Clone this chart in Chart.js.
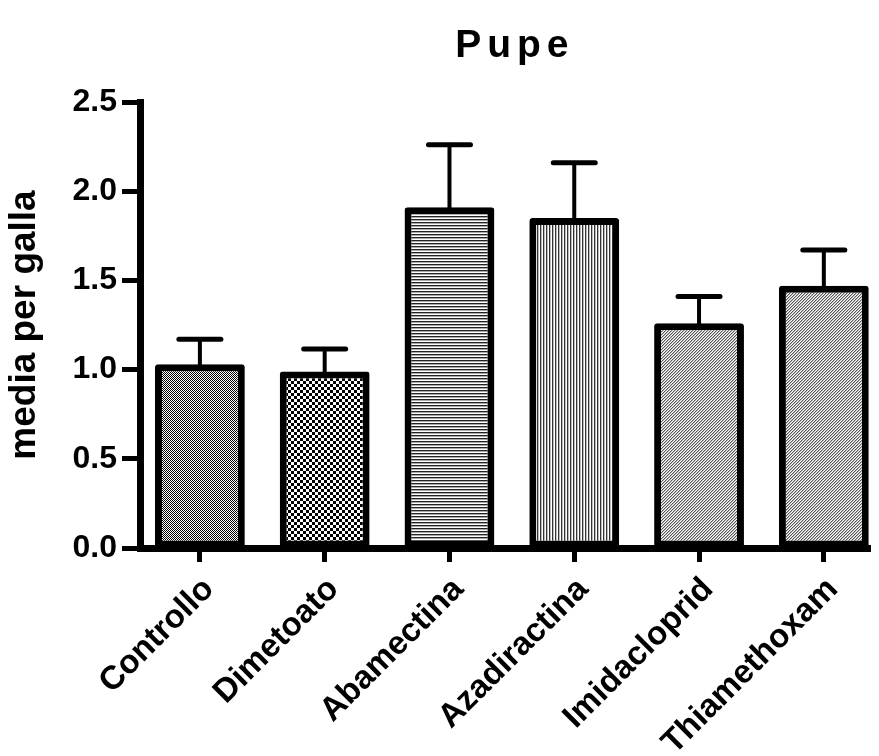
<!DOCTYPE html>
<html>
<head>
<meta charset="utf-8">
<script src="https://cdn.jsdelivr.net/npm/chart.js@4/dist/chart.umd.min.js"></script>
<style>
  html, body { margin: 0; padding: 0; background: #fff; }
</style>
</head>
<body>
<canvas id="grafico" width="879" height="756"></canvas>
<script>
const categorie = ["Controllo", "Dimetoato", "Abamectina", "Azadiractina", "Imidacloprid", "Thiamethoxam"];
const medie = [1.03, 0.99, 1.91, 1.85, 1.26, 1.47];
const errori = [0.14, 0.125, 0.35, 0.31, 0.15, 0.20];
const tickY = [0, 0.5, 1.0, 1.5, 2.0, 2.5];

const FONT = "'Liberation Sans', Arial, sans-serif";

// piccoli motivi di riempimento come nel grafico originale
function motivo(w, h, disegna) {
  const c = document.createElement("canvas");
  c.width = w;
  c.height = h;
  const g = c.getContext("2d");
  g.fillStyle = "#fff";
  g.fillRect(0, 0, w, h);
  disegna(g);
  return g.createPattern(c, "repeat");
}

const scacchiFini = motivo(2, 2, g => {
  g.fillStyle = "#000";
  g.fillRect(0, 0, 1, 1);
  g.fillRect(1, 1, 1, 1);
});
const scacchiGrandi = motivo(6, 6, g => {
  g.fillStyle = "#000";
  g.fillRect(0, 0, 3, 3);
  g.fillRect(3, 3, 3, 3);
});
const righeOrizz = motivo(3, 3, g => {
  g.fillStyle = "#222";
  g.fillRect(0, 0, 3, 1);
  g.fillStyle = "#aaa";
  g.fillRect(0, 1, 3, 1);
});
const righeVert = motivo(3, 3, g => {
  g.fillStyle = "#333";
  g.fillRect(0, 0, 1, 3);
  g.fillStyle = "#bbb";
  g.fillRect(1, 0, 1, 3);
});
const diagonali = motivo(3, 3, g => {
  g.fillStyle = "#555";
  g.fillRect(2, 0, 1, 1);
  g.fillRect(1, 1, 1, 1);
  g.fillRect(0, 2, 1, 1);
  g.fillStyle = "#bbb";
  g.fillRect(0, 0, 1, 1);
  g.fillRect(2, 1, 1, 1);
  g.fillRect(1, 2, 1, 1);
});

// barre d'errore (solo verso l'alto)
const barreErrore = {
  id: "barreErrore",
  afterDatasetsDraw(chart) {
    const ctx = chart.ctx;
    const x = chart.scales.x;
    const y = chart.scales.y;
    ctx.save();
    ctx.strokeStyle = "#000";
    ctx.lineCap = "round";
    medie.forEach((m, i) => {
      const px = x.getPixelForValue(i);
      const yBase = y.getPixelForValue(m);
      const yTop = y.getPixelForValue(m + errori[i]);
      ctx.lineWidth = 4;
      ctx.beginPath();
      ctx.moveTo(px, yBase);
      ctx.lineTo(px, yTop);
      ctx.stroke();
      ctx.lineWidth = 5;
      ctx.beginPath();
      ctx.moveTo(px - 21, yTop);
      ctx.lineTo(px + 21, yTop);
      ctx.stroke();
    });
    ctx.restore();
  },
};

// titolo con spaziatura tra le lettere
const titolo = {
  id: "titolo",
  afterDraw(chart) {
    const ctx = chart.ctx;
    const x = chart.scales.x;
    const cx = (x.getPixelForValue(0) + x.getPixelForValue(categorie.length - 1)) / 2;
    ctx.save();
    ctx.font = "bold 39px " + FONT;
    ctx.letterSpacing = "6px";
    ctx.fillStyle = "#000";
    ctx.textAlign = "center";
    ctx.textBaseline = "middle";
    ctx.fillText("Pupe", cx + 3, 46);
    ctx.restore();
  },
};

new Chart(document.getElementById("grafico"), {
  type: "bar",
  data: {
    datasets: [
      {
        data: medie.map((m, i) => ({ x: i, y: m })),
        backgroundColor: [scacchiFini, scacchiGrandi, righeOrizz, righeVert, diagonali, diagonali],
        borderColor: "#000",
        borderWidth: 7,
        borderRadius: 3,
        borderSkipped: false,
        barPercentage: 0.72,
        categoryPercentage: 1,
      },
    ],
  },
  options: {
    responsive: false,
    animation: false,
    layout: { padding: { top: 102, right: 9, left: 0, bottom: 0 } },
    plugins: {
      legend: { display: false },
      tooltip: { enabled: false },
    },
    scales: {
      x: {
        type: "linear",
        offset: false,
        min: -0.48,
        max: 5.37,
        afterBuildTicks: s => { s.ticks = categorie.map((c, i) => ({ value: i })); },
        afterFit: s => { s.height = 208; },
        border: { display: true, color: "#000", width: 7 },
        grid: { display: true, offset: false, drawOnChartArea: false, drawTicks: true, tickLength: 14, tickWidth: 5, tickColor: "#000" },
        ticks: {
          autoSkip: false,
          maxRotation: 45,
          minRotation: 45,
          padding: 8,
          labelOffset: 9,
          color: "#000",
          font: { family: FONT, size: 33, weight: "bold" },
          callback: v => categorie[v],
        },
      },
      y: {
        min: 0,
        max: 2.5,
        afterBuildTicks: s => { s.ticks = tickY.map(v => ({ value: v })); },
        afterFit: s => { s.width = 140; },
        border: { display: true, color: "#000", width: 7 },
        grid: { display: true, drawOnChartArea: false, drawTicks: true, tickLength: 18, tickWidth: 5, tickColor: "#000" },
        ticks: {
          padding: 5,
          color: "#000",
          font: { family: FONT, size: 32, weight: "bold" },
          callback: v => v.toFixed(1),
        },
        title: {
          display: true,
          text: "media per galla",
          color: "#000",
          font: { family: FONT, size: 37, weight: "bold" },
          padding: { top: 3, bottom: 0 },
        },
      },
    },
  },
  plugins: [barreErrore, titolo],
});
</script>
</body>
</html>
